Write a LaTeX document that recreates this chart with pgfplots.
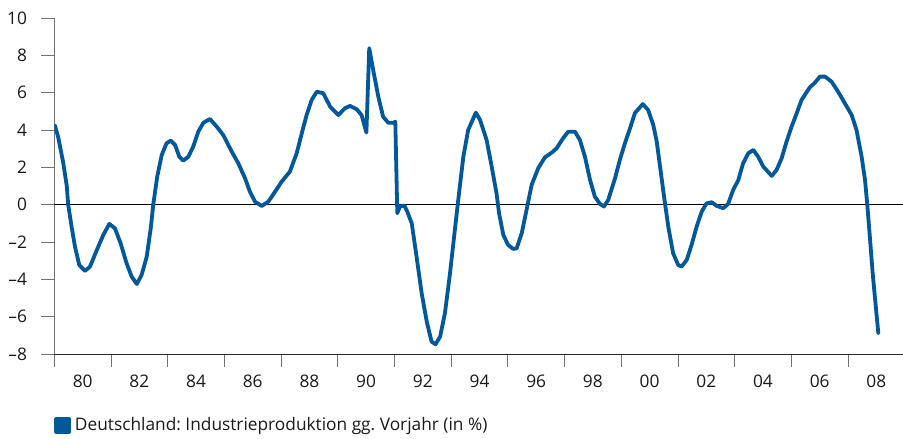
\documentclass[border=0pt]{standalone}
\usepackage{pgfplots}
\pgfplotsset{compat=1.18}
\usepackage{fontspec}
\setmainfont{Open Sans}
\definecolor{dbblue}{RGB}{0,88,155}
\frenchspacing
\begin{document}
\fontsize{17pt}{20pt}\selectfont
\begin{tikzpicture}
\useasboundingbox (-54.3pt,-85pt) rectangle (848.7pt,354pt);
\begin{axis}[
  scale only axis, width=848.7pt, height=336pt,
  at={(0pt,0pt)}, anchor=south west,
  xmin=1979, xmax=2008.94, ymin=-8, ymax=10,
  axis x line*=bottom, axis y line*=left,
  axis line style={-},
  x axis line style={black!85, line width=0.8pt},
  y axis line style={black!55, line width=0.8pt},
  xtick={1980,1982,...,2008},
  xticklabels={80,82,84,86,88,90,92,94,96,98,00,02,04,06,08},
  major x tick style={draw=none},
  minor xtick={1979,1981,...,2007},
  ytick={-8,-6,...,10},
  yticklabels={–8,–6,–4,–2,0,2,4,6,8,10},
  tick align=outside,
  major tick length=13pt, minor tick length=13pt,
  every tick/.style={black!55, line width=0.8pt},
  tick label style={font=\fontsize{17.3pt}{20pt}\selectfont, text=black!90},
  xticklabel style={yshift=-2pt},
  yticklabel style={xshift=-8.5pt},
  legend style={at={(0,0)}, anchor=west, yshift=-71.5pt, draw=none, fill=none,
    inner sep=0pt, font=\fontsize{17.3pt}{20pt}\selectfont, text=black!90},
  legend image code/.code={\fill[dbblue] (0pt,-6.3pt) rectangle (12.7pt,6.3pt);},
  legend cell align=left,
]
\addplot[black, line width=0.8pt, forget plot] coordinates {(1979,0) (2008.94,0)};
\addplot[dbblue, line width=3.8pt, line join=round, line cap=round] coordinates {
(1979.02,4.25) (1979.14,3.6) (1979.32,2.2) (1979.44,1.0) (1979.49,0.0)
(1979.61,-1.18) (1979.73,-2.25) (1979.88,-3.23) (1980.08,-3.55) (1980.26,-3.32)
(1980.50,-2.43) (1980.73,-1.62) (1980.94,-1.03) (1981.14,-1.27) (1981.34,-2.07)
(1981.55,-3.14) (1981.73,-3.86) (1981.91,-4.25) (1982.08,-3.77) (1982.26,-2.79)
(1982.41,-1.18) (1982.49,0.0) (1982.63,1.5) (1982.79,2.66) (1982.96,3.29)
(1983.11,3.43) (1983.26,3.2) (1983.41,2.57) (1983.55,2.36) (1983.73,2.57)
(1983.90,3.11) (1984.08,3.91) (1984.26,4.39) (1984.49,4.59) (1984.73,4.18)
(1984.96,3.73) (1985.26,2.84) (1985.49,2.22) (1985.73,1.41) (1985.90,0.7)
(1986.08,0.16) (1986.32,-0.07) (1986.55,0.16) (1986.79,0.7) (1987.02,1.23)
(1987.31,1.77) (1987.55,2.75) (1987.73,3.82) (1987.90,4.8) (1988.08,5.61)
(1988.26,6.05) (1988.49,5.97) (1988.73,5.25) (1989.02,4.8) (1989.25,5.16)
(1989.43,5.29) (1989.67,5.11) (1989.84,4.8) (1990.01,3.86) (1990.11,8.38)
(1990.25,7.21) (1990.43,5.78) (1990.60,4.71) (1990.78,4.39) (1990.99,4.39)
(1991.03,4.45) (1991.10,-0.46) (1991.19,-0.1) (1991.35,-0.05) (1991.45,-0.37)
(1991.61,-1.0) (1991.78,-2.79) (1991.96,-4.75) (1992.14,-6.27) (1992.31,-7.34)
(1992.45,-7.48) (1992.61,-7.07) (1992.78,-5.82) (1992.96,-3.67) (1993.13,-1.36)
(1993.25,0.25) (1993.43,2.57) (1993.60,4.0) (1993.87,4.93) (1994.02,4.54)
(1994.25,3.47) (1994.43,2.04) (1994.60,0.61) (1994.69,-0.46) (1994.84,-1.62)
(1995.01,-2.16) (1995.19,-2.37) (1995.31,-2.34) (1995.49,-1.53) (1995.66,-0.28)
(1995.84,1.06) (1996.07,1.95) (1996.31,2.54) (1996.55,2.79) (1996.72,3.02)
(1996.95,3.56) (1997.13,3.91) (1997.37,3.91) (1997.54,3.47) (1997.72,2.57)
(1997.90,1.32) (1998.07,0.43) (1998.25,0.04) (1998.39,-0.1) (1998.54,0.25)
(1998.78,1.41) (1998.95,2.39) (1999.13,3.29) (1999.31,4.09) (1999.48,4.9)
(1999.76,5.39) (1999.95,5.07) (2000.13,4.27) (2000.25,3.4) (2000.37,2.04)
(2000.51,0.43) (2000.66,-1.18) (2000.83,-2.6) (2001.01,-3.23) (2001.13,-3.32)
(2001.31,-2.96) (2001.48,-2.16) (2001.66,-1.18) (2001.84,-0.37) (2002.01,0.07)
(2002.19,0.13) (2002.37,-0.07) (2002.60,-0.19) (2002.77,0.04) (2002.95,0.79)
(2003.13,1.32) (2003.30,2.22) (2003.48,2.75) (2003.66,2.93) (2003.83,2.57)
(2004.01,2.04) (2004.31,1.54) (2004.48,1.86) (2004.66,2.49) (2004.83,3.37)
(2005.01,4.18) (2005.19,4.9) (2005.36,5.61) (2005.66,6.3) (2005.83,6.53)
(2006.01,6.86) (2006.19,6.86) (2006.42,6.59) (2006.65,6.05) (2006.89,5.43)
(2007.13,4.8) (2007.30,4.0) (2007.48,2.57) (2007.60,1.32) (2007.68,0.0)
(2007.77,-1.71) (2007.87,-3.67) (2007.98,-5.46) (2008.07,-6.89)
};
\addlegendentry{\hspace{2pt}Deutschland: Industrieproduktion gg. Vorjahr (in \%)}
\end{axis}
\end{tikzpicture}
\end{document}
